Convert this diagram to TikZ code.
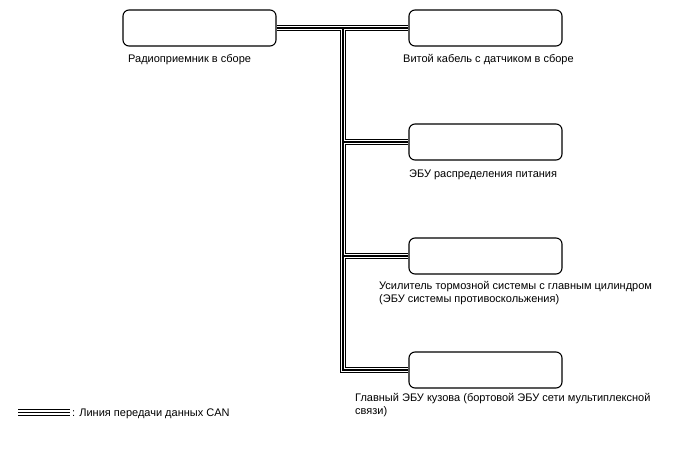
\documentclass[tikz,border=0pt]{standalone}
\usepackage{fontspec}
\setmainfont{Liberation Sans}
\begin{document}
\begin{tikzpicture}[x=1pt,y=-1pt,
  ecu/.style={draw,line width=1.1pt,rounded corners=6pt,minimum width=153pt,minimum height=36pt,inner sep=0pt},
  lbl/.style={anchor=base west,inner sep=0pt,font=\fontsize{11pt}{13pt}\selectfont,align=left}]
\useasboundingbox (0,0) rectangle (688,463);
\node[ecu] (r) at (199.5,28) {};
\node[ecu] (b1) at (485.5,28) {};
\node[ecu] (b2) at (485.5,142) {};
\node[ecu] (b3) at (485.5,256) {};
\node[ecu] (b4) at (485.5,370) {};
\coordinate (t0) at (343,28);
\coordinate (l1) at (18,412.5);
\coordinate (l2) at (70,412.5);
\foreach \w/\c in {6.6/black,4.1/white,1.5/black}{
  \draw[line width=\w pt,\c,line join=miter] (r.east) -- (b1.west)
    (t0) -- (t0 |- b4.west) -- (b4.west)
    (t0 |- b2.west) -- (b2.west)
    (t0 |- b3.west) -- (b3.west);
  \draw[line width=\w pt,\c] (l1) -- (l2);
}
\node[lbl] (tr) at (128,62) {Радиоприемник в сборе};
\node[lbl] (t1) at (403,62) {Витой кабель с датчиком в сборе};
\node[lbl] (t2) at (409,177) {ЭБУ распределения питания};
\node[lbl] (t3) at (379,302) {Усилитель тормозной системы с главным цилиндром\\(ЭБУ системы противоскольжения)};
\node[lbl] (t4) at (355,414) {Главный ЭБУ кузова (бортовой ЭБУ сети мультиплексной\\связи)};
\node[lbl] (tl) at (72,416) {: Линия передачи данных CAN};
\end{tikzpicture}
\end{document}
